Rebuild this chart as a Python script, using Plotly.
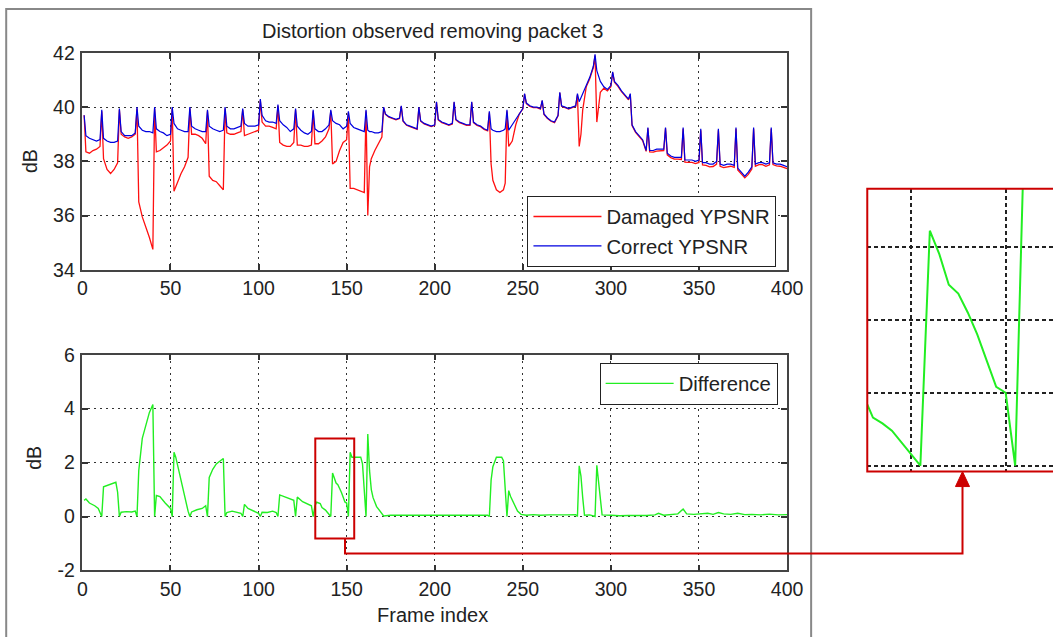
import plotly.graph_objects as go

# ---------------- data ----------------
top_frames = [
    1, 2, 4, 6, 8, 10,
    11, 12, 14, 16, 18, 20,
    21, 22, 24, 26, 28, 30,
    31, 32, 34, 36, 38, 40,
    41, 42, 44, 46, 48, 50,
    51, 52, 54, 56, 58, 60,
    61, 62, 64, 66, 68, 70,
    71, 72, 74, 76, 78, 80,
    81, 82, 84, 86, 88, 90,
    91, 92, 94, 96, 98, 100,
    101, 102, 104, 106, 108, 110,
    111, 112, 114, 116, 118, 120,
    121, 122, 124, 126, 128, 130,
    131, 132, 134, 136, 138, 140,
    141, 142, 144, 146, 148, 150,
    151, 152, 154, 156, 158, 160,
    161, 162, 163, 164, 166, 168, 170,
    171, 172, 174, 176, 178, 180,
    181, 182, 184, 186, 188, 190,
    191, 192, 194, 196, 198, 200,
    201, 202, 204, 206, 208, 210,
    211, 212, 214, 216, 218, 220,
    221, 222, 224, 226, 228, 230,
    231, 232, 233, 235, 237, 239, 240,
    241, 242, 244, 246, 248, 250,
    251, 252, 254, 256, 258, 260,
    261, 262, 264, 266, 268, 270,
    271, 272, 274, 276, 278, 280,
    281, 282, 283, 284, 286, 288, 290,
    291, 292, 293, 294, 296, 298, 300,
    301, 302, 304, 306, 308, 310,
    311, 312, 314, 316, 318, 320,
    321, 322, 324, 326, 328, 330,
    331, 332, 334, 336, 338, 340,
    341, 342, 344, 346, 348, 350,
    351, 352, 354, 356, 358, 360,
    361, 362, 364, 366, 368, 370,
    371, 372, 374, 376, 378, 380,
    381, 382, 384, 386, 388, 390,
    391, 392, 394, 396, 398, 400,
]

correct_db = [
    39.70, 38.95, 38.85, 38.80, 38.75, 38.80,
    39.90, 38.85, 38.75, 38.70, 38.70, 38.75,
    39.95, 39.10, 38.95, 38.95, 38.95, 39.05,
    40.00, 39.30, 39.15, 39.10, 39.10, 39.05,
    40.00, 39.20, 39.10, 39.05, 38.95, 39.00,
    40.00, 39.40, 39.20, 39.15, 39.10, 39.10,
    40.00, 39.30, 39.20, 39.15, 39.10, 39.10,
    39.90, 39.30, 39.20, 39.15, 39.10, 39.15,
    40.00, 39.30, 39.20, 39.20, 39.25, 39.30,
    39.95, 39.40, 39.30, 39.30, 39.30, 39.35,
    40.30, 39.70, 39.50, 39.45, 39.45, 39.40,
    40.10, 39.50, 39.35, 39.25, 39.10, 39.20,
    39.95, 39.30, 39.15, 39.05, 39.00, 39.10,
    39.90, 39.20, 39.10, 39.10, 39.20, 39.35,
    39.90, 39.50, 39.40, 39.35, 39.20, 39.30,
    39.85, 39.40, 39.25, 39.20, 39.15, 39.10,
    39.90, 39.15, 39.10, 39.10, 39.05, 39.05, 39.10,
    40.00, 39.75, 39.65, 39.60, 39.55, 39.60,
    40.05, 39.50, 39.35, 39.30, 39.25, 39.20,
    40.00, 39.50, 39.40, 39.35, 39.30, 39.35,
    40.20, 39.55, 39.45, 39.40, 39.35, 39.40,
    40.20, 39.55, 39.45, 39.40, 39.35, 39.35,
    40.20, 39.45, 39.35, 39.30, 39.20, 39.15,
    39.85, 39.20, 39.15, 39.10, 39.10, 39.15, 39.20,
    39.90, 39.15, 39.35, 39.55, 39.80, 39.95,
    40.50, 40.15, 40.05, 40.00, 40.00, 39.95,
    40.25, 39.75, 39.60, 39.50, 39.45, 39.70,
    40.55, 40.05, 40.00, 39.95, 40.00, 40.05,
    40.50, 40.20, 40.35, 40.50, 40.80, 41.10, 41.50,
    41.95, 41.35, 41.10, 40.95, 40.75, 40.65, 40.80,
    41.30, 40.95, 40.80, 40.60, 40.45, 40.30,
    40.50, 39.35, 39.10, 38.95, 38.80, 38.40,
    39.25, 38.40, 38.40, 38.45, 38.45, 38.45,
    39.25, 38.30, 38.20, 38.15, 38.15, 38.15,
    39.25, 38.05, 38.05, 38.05, 38.00, 38.05,
    39.20, 37.95, 37.95, 37.90, 37.90, 38.00,
    39.20, 37.90, 37.85, 37.90, 37.90, 37.85,
    39.25, 37.75, 37.60, 37.45, 37.60, 37.80,
    39.25, 37.90, 37.95, 37.95, 37.90, 37.95,
    39.25, 37.95, 37.90, 37.90, 37.85, 37.80,
]

damaged_db = [
    39.70, 38.35, 38.30, 38.40, 38.45, 38.55,
    39.85, 38.10, 37.70, 37.55, 37.70, 37.95,
    39.90, 39.00, 38.90, 38.85, 38.90, 39.00,
    39.95, 36.50, 35.95, 35.60, 35.20, 34.75,
    39.95, 38.35, 38.40, 38.50, 38.60, 38.75,
    39.95, 36.90, 37.25, 37.55, 37.80, 38.15,
    39.95, 39.00, 39.00, 38.95, 38.85, 38.65,
    39.85, 37.45, 37.30, 37.25, 37.10, 36.95,
    39.95, 39.05, 39.00, 39.00, 39.05, 39.10,
    39.90, 38.95, 39.00, 39.05, 39.10, 39.15,
    40.25, 39.45, 39.30, 39.30, 39.25, 39.20,
    40.05, 38.70, 38.60, 38.55, 38.55, 38.70,
    39.90, 38.60, 38.60, 38.55, 38.55, 38.60,
    39.85, 38.65, 38.65, 38.75, 38.90, 39.20,
    39.85, 37.90, 38.00, 38.40, 38.70, 38.80,
    39.80, 37.00, 37.00, 36.95, 36.90, 36.85,
    39.85, 36.00, 37.80, 38.10, 38.40, 38.65, 38.90,
    39.98, 39.73, 39.63, 39.58, 39.53, 39.58,
    40.03, 39.48, 39.33, 39.28, 39.23, 39.18,
    39.98, 39.48, 39.38, 39.33, 39.28, 39.33,
    40.18, 39.53, 39.43, 39.38, 39.33, 39.38,
    40.18, 39.53, 39.43, 39.38, 39.33, 39.33,
    40.18, 39.43, 39.33, 39.28, 39.18, 39.13,
    39.80, 37.90, 37.30, 36.95, 36.85, 36.95, 37.20,
    39.85, 38.55, 38.75, 39.35, 39.75, 39.93,
    40.48, 40.13, 40.03, 39.98, 39.98, 39.93,
    40.23, 39.73, 39.58, 39.48, 39.43, 39.68,
    40.53, 40.03, 39.98, 39.93, 39.98, 40.03,
    40.45, 38.55, 39.00, 39.90, 40.75, 41.05, 41.45,
    41.90, 39.45, 40.10, 40.55, 40.70, 40.60, 40.75,
    41.27, 40.92, 40.77, 40.57, 40.42, 40.27,
    40.47, 39.32, 39.07, 38.92, 38.77, 38.37,
    39.22, 38.35, 38.34, 38.38, 38.40, 38.40,
    39.22, 38.24, 38.14, 38.08, 38.08, 38.07,
    39.20, 37.97, 37.96, 37.96, 37.92, 37.96,
    39.15, 37.87, 37.85, 37.80, 37.81, 37.90,
    39.15, 37.82, 37.77, 37.80, 37.82, 37.78,
    39.20, 37.68, 37.52, 37.39, 37.52, 37.72,
    39.20, 37.82, 37.88, 37.88, 37.82, 37.87,
    39.20, 37.88, 37.83, 37.82, 37.78, 37.73,
]

diff_frames = [
    1, 2, 4, 7, 9, 11, 12, 14, 17, 19, 20, 21, 22, 25, 28, 30,
    31, 32, 34, 36, 38, 40, 41, 42, 44, 47, 50, 51, 52, 53, 55, 57, 59, 60,
    61, 62, 65, 68, 70, 71, 72, 74, 76, 78, 80, 81, 82, 85, 88, 90,
    91, 92, 94, 97, 100, 101, 102, 105, 108, 110, 111, 112, 115, 118, 120,
    121, 122, 125, 128, 130, 131, 132, 133, 135, 136, 137, 138, 139, 140,
    141, 142, 143, 144, 145, 146, 147, 148, 149, 150,
    151, 152, 153, 155, 158, 159, 160, 161, 162, 163, 164, 165, 167, 170,
    171, 175, 180, 185, 190, 195, 200, 205, 210, 215, 220, 225, 230,
    231, 232, 233, 235, 238, 239, 241, 242, 243, 245, 247, 249, 252, 256, 260,
    265, 270, 275, 280, 281, 282, 283, 284, 285, 288, 291, 292, 293, 294, 295,
    300, 305, 310, 315, 320, 325, 327, 330, 335, 338, 341, 343, 347, 350,
    355, 358, 361, 364, 368, 372, 376, 380, 385, 390, 395, 400,
]

diff_db = [
    0.60, 0.65, 0.50, 0.40, 0.30, 0.00, 1.10, 1.15, 1.22, 1.27, 0.90, 0.00, 0.16, 0.18, 0.17, 0.20,
    0.00, 1.70, 2.90, 3.40, 3.85, 4.15, 0.00, 0.78, 0.74, 0.50, 0.30, 0.00, 2.38, 2.20, 1.60, 1.00, 0.50, 0.20,
    0.00, 0.17, 0.25, 0.30, 0.40, 0.00, 1.45, 1.75, 1.95, 2.05, 2.15, 0.00, 0.15, 0.20, 0.15, 0.12,
    0.00, 0.45, 0.30, 0.20, 0.12, 0.00, 0.16, 0.15, 0.20, 0.15, 0.00, 0.80, 0.72, 0.65, 0.60,
    0.00, 0.72, 0.55, 0.45, 0.40, 0.00, 0.40, 0.53, 0.48, 0.33, 0.29, 0.24, 0.16, 0.08,
    0.00, 1.61, 1.45, 1.24, 1.18, 1.05, 0.90, 0.72, 0.54, 0.50,
    0.00, 2.38, 2.20, 2.20, 2.20, 1.95, 1.00, 0.00, 3.06, 1.70, 1.00, 0.70, 0.37, 0.12,
    0.02, 0.05, 0.06, 0.05, 0.05, 0.06, 0.05, 0.05, 0.05, 0.06, 0.05, 0.05, 0.05,
    0.00, 1.35, 1.85, 2.20, 2.20, 2.07, 0.00, 0.96, 0.75, 0.45, 0.20, 0.08, 0.05, 0.07, 0.05,
    0.06, 0.05, 0.06, 0.07, 0.00, 1.88, 1.50, 0.70, 0.05, 0.06, 0.00, 1.90, 1.30, 0.60, 0.06,
    0.05, 0.03, 0.04, 0.03, 0.04, 0.06, 0.12, 0.05, 0.08, 0.10, 0.28, 0.10, 0.08, 0.09,
    0.12, 0.08, 0.15, 0.10, 0.08, 0.12, 0.07, 0.08, 0.06, 0.09, 0.06, 0.07,
]

x_ticks = [0, 50, 100, 150, 200, 250, 300, 350, 400]
top_y_ticks = [34, 36, 38, 40, 42]
bottom_y_ticks = [-2, 0, 2, 4, 6]
bottom_y_text = ["-2", "0", "2", "4", "6"]
inset_x_grid = [140, 150]
inset_y_grid = [0, 0.5, 1, 1.5]

# ---------------- figure ----------------
# The captured page shows the figure with a small offset and a slight down-scale;
# positions below are given in target-picture pixels and converted.
AX, KX = 7.8, 0.978
AY, KY = 10.0, 0.967
W, H = 1069, 649
FONT = "Liberation Sans, Arial, sans-serif"


def px(x):
    return ((x - AX) / KX) / W


def py(y):
    return 1 - ((y - AY) / KY) / H


fig = go.Figure()

fig.add_trace(go.Scatter(x=top_frames, y=damaged_db, mode="lines", name="Damaged YPSNR",
                         line=dict(color="#ff1010", width=1.3), xaxis="x", yaxis="y", legend="legend"))
fig.add_trace(go.Scatter(x=top_frames, y=correct_db, mode="lines", name="Correct YPSNR",
                         line=dict(color="#0000e0", width=1.2), xaxis="x", yaxis="y", legend="legend"))
fig.add_trace(go.Scatter(x=diff_frames, y=diff_db, mode="lines", name="Difference",
                         line=dict(color="#22ee22", width=1.4), xaxis="x2", yaxis="y2", legend="legend2"))
fig.add_trace(go.Scatter(x=diff_frames, y=diff_db, mode="lines", name="Difference (zoom)",
                         line=dict(color="#22ee22", width=2), xaxis="x3", yaxis="y3", showlegend=False))

axis_common = dict(
    showline=True, linecolor="#444", linewidth=1.5, mirror="ticks",
    ticks="inside", ticklen=6, tickwidth=1.5, tickcolor="#333",
    showgrid=True, gridcolor="#333", gridwidth=1, griddash="2px,4px",
    zeroline=False, tickfont=dict(family=FONT, size=19.5, color="#222"),
)

x_dom = [px(85), px(788)]
inset_right = 135.4 + (1060 - 868) / 9.8
fig.update_layout(
    width=W, height=H, margin=dict(l=0, r=0, t=0, b=0),
    paper_bgcolor="white", plot_bgcolor="white",
    font=dict(family=FONT, size=18, color="#222"),
    xaxis=dict(domain=x_dom, range=[0, 400], tickvals=x_ticks, anchor="y", **axis_common),
    yaxis=dict(domain=[py(269), py(52)], range=[34, 42], tickvals=top_y_ticks, anchor="x",
               ticklabelstandoff=2, **axis_common),
    xaxis2=dict(domain=x_dom, range=[0, 400], tickvals=x_ticks, anchor="y2", **axis_common),
    yaxis2=dict(domain=[py(570), py(354)], range=[-2, 6], tickvals=bottom_y_ticks,
                ticktext=bottom_y_text, anchor="x2", ticklabelstandoff=2, **axis_common),
    xaxis3=dict(domain=[px(868), min(1, px(1060))], range=[135.4, inset_right], anchor="y3",
                tickvals=inset_x_grid, showticklabels=False, ticks="", showline=False, zeroline=False,
                showgrid=True, gridcolor="#222", gridwidth=2, griddash="4px,3px"),
    yaxis3=dict(domain=[py(471), py(188)], range=[-0.04, 1.897], anchor="x3", tickvals=inset_y_grid,
                showticklabels=False, ticks="", showline=False, zeroline=False,
                showgrid=True, gridcolor="#222", gridwidth=2, griddash="4px,3px"),
    legend=dict(x=px(529), y=py(195), xanchor="left", yanchor="top", bgcolor="white",
                bordercolor="#222", borderwidth=1, itemwidth=68, tracegroupgap=0,
                font=dict(family=FONT, size=20.3, color="#222")),
    legend2=dict(x=px(601), y=py(362), xanchor="left", yanchor="top", bgcolor="white",
                 bordercolor="#222", borderwidth=1, itemwidth=68,
                 font=dict(family=FONT, size=20.3, color="#222")),
    showlegend=True,
)

annotations = [
    dict(text="Distortion observed removing packet 3", x=px(434), y=py(30), size=20),
    dict(text="dB", x=px(33), y=py(160), textangle=-90, size=19.5),
    dict(text="dB", x=px(36), y=py(457), textangle=-90, size=19.5),
    dict(text="Frame index", x=px(434), y=py(615), size=20),
]
for a in annotations:
    size = a.pop("size")
    fig.add_annotation(xref="paper", yref="paper", showarrow=False, xanchor="center", yanchor="middle",
                       font=dict(family=FONT, size=size, color="#222"), **a)

RED = "#cc0000"
shapes = [
    # outer figure frame
    dict(type="rect", xref="paper", yref="paper", x0=px(9), x1=px(812), y0=py(660), y1=py(8),
         line=dict(color="#888", width=2)),
    # highlight box in the lower axes
    dict(type="rect", xref="x2", yref="y2", x0=132.2, x1=154.3, y0=-0.81, y1=2.89,
         line=dict(color=RED, width=2)),
    # connector
    dict(type="path", xref="paper", yref="paper",
         path=f"M {px(347)},{py(538)} L {px(347)},{py(553)} L {px(963)},{py(553)} L {px(963)},{py(484)}",
         line=dict(color=RED, width=2)),
    # arrow head
    dict(type="path", xref="paper", yref="paper",
         path=f"M {px(963)},{py(471)} L {px(956)},{py(486)} L {px(970)},{py(486)} Z",
         line=dict(color=RED, width=1), fillcolor=RED),
    # inset frame
    dict(type="rect", xref="paper", yref="paper", x0=px(868), x1=px(1120), y0=py(471), y1=py(188),
         line=dict(color=RED, width=2)),
]
for s in shapes:
    fig.add_shape(**s)

fig.write_html("out.html")
